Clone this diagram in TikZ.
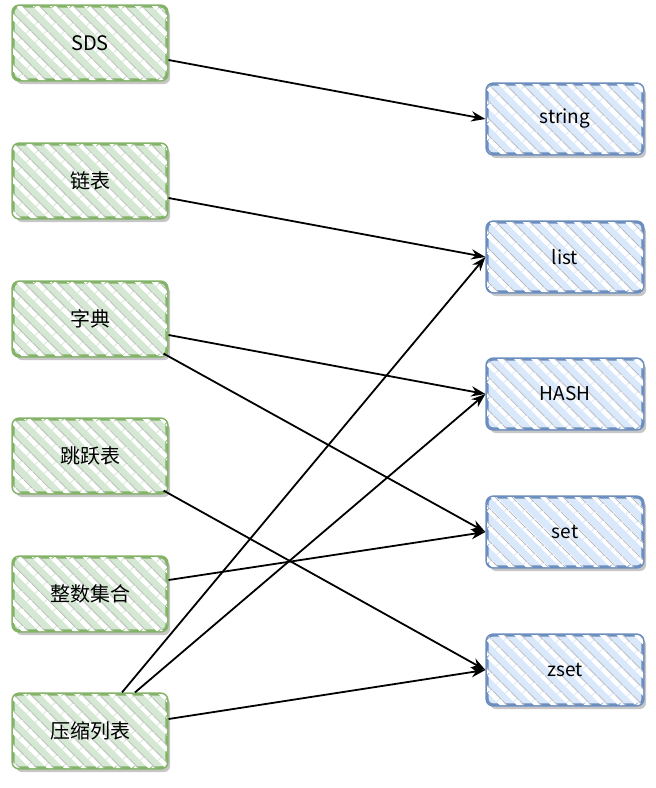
\documentclass[tikz,border=0pt]{standalone}
\usepackage{fontspec}
\setmainfont{Noto Sans CJK SC}
\usetikzlibrary{arrows.meta,patterns.meta,shadows}
\definecolor{implc}{HTML}{82B366}
\definecolor{implbg}{HTML}{D5E8D4}
\definecolor{typec}{HTML}{6C8EBF}
\definecolor{typebg}{HTML}{DAE8FC}
\tikzset{
  ar/.style={-{Stealth[length=5mm,width=3.6mm]},line width=1.8pt,black},
  hatch/.style={postaction={pattern={Lines[angle=-45,distance=13pt,line width=5pt]},pattern color=white},
    postaction={pattern={Lines[angle=-45,distance=13pt,line width=1pt,xshift=3.8pt]},pattern color=gray!55}},
  implbox/.style={draw=implc,line width=3.2pt,rounded corners=6pt,fill=implbg,minimum width=154pt,minimum height=74pt,
    drop shadow={shadow xshift=3pt,shadow yshift=-4pt,fill=gray!45,opacity=1},hatch,font=\fontsize{20}{24}\selectfont},
  typebox/.style={draw=typec,line width=3.2pt,rounded corners=6pt,fill=typebg,minimum width=156pt,minimum height=70pt,
    drop shadow={shadow xshift=3pt,shadow yshift=-4pt,fill=gray!45,opacity=1},hatch,font=\fontsize{19}{23}\selectfont}
}

\begin{document}
\begin{tikzpicture}[x=1pt,y=-1pt]
\useasboundingbox (0,0) rectangle (656,788);
% implementations
\node[implbox] (sds) at (90,43) {SDS};
\node[implbox] (linked) at (90,181) {链表};
\node[implbox] (dict) at (90,319) {字典};
\node[implbox] (skip) at (90,456) {跳跃表};
\node[implbox] (intset) at (90,594) {整数集合};
\node[implbox] (ziplist) at (90,731) {压缩列表};
% object types
\node[typebox] (string) at (565,119) {string};
\node[typebox] (list) at (565,257) {list};
\node[typebox] (hash) at (565,394) {HASH};
\node[typebox] (set) at (565,532) {set};
\node[typebox] (zset) at (565,670) {zset};
% links
\draw[ar] ([yshift=-17pt]sds.east) -- (string.west);
\draw[ar] ([yshift=-17pt]linked.east) -- (list.west);
\draw[ar] ([yshift=-16pt]dict.east) -- (hash.west);
\draw[ar] ([xshift=-5pt,yshift=4pt]dict.south east) -- (set.west);
\draw[ar] ([xshift=-5pt,yshift=4pt]skip.south east) -- (zset.west);
\draw[ar] ([yshift=14pt]intset.east) -- (set.west);
\draw[ar] ([xshift=32pt]ziplist.north) -- (list.west);
\draw[ar] ([xshift=45pt]ziplist.north) -- (hash.west);
\draw[ar] ([yshift=12pt]ziplist.east) -- (zset.west);
\end{tikzpicture}
\end{document}
